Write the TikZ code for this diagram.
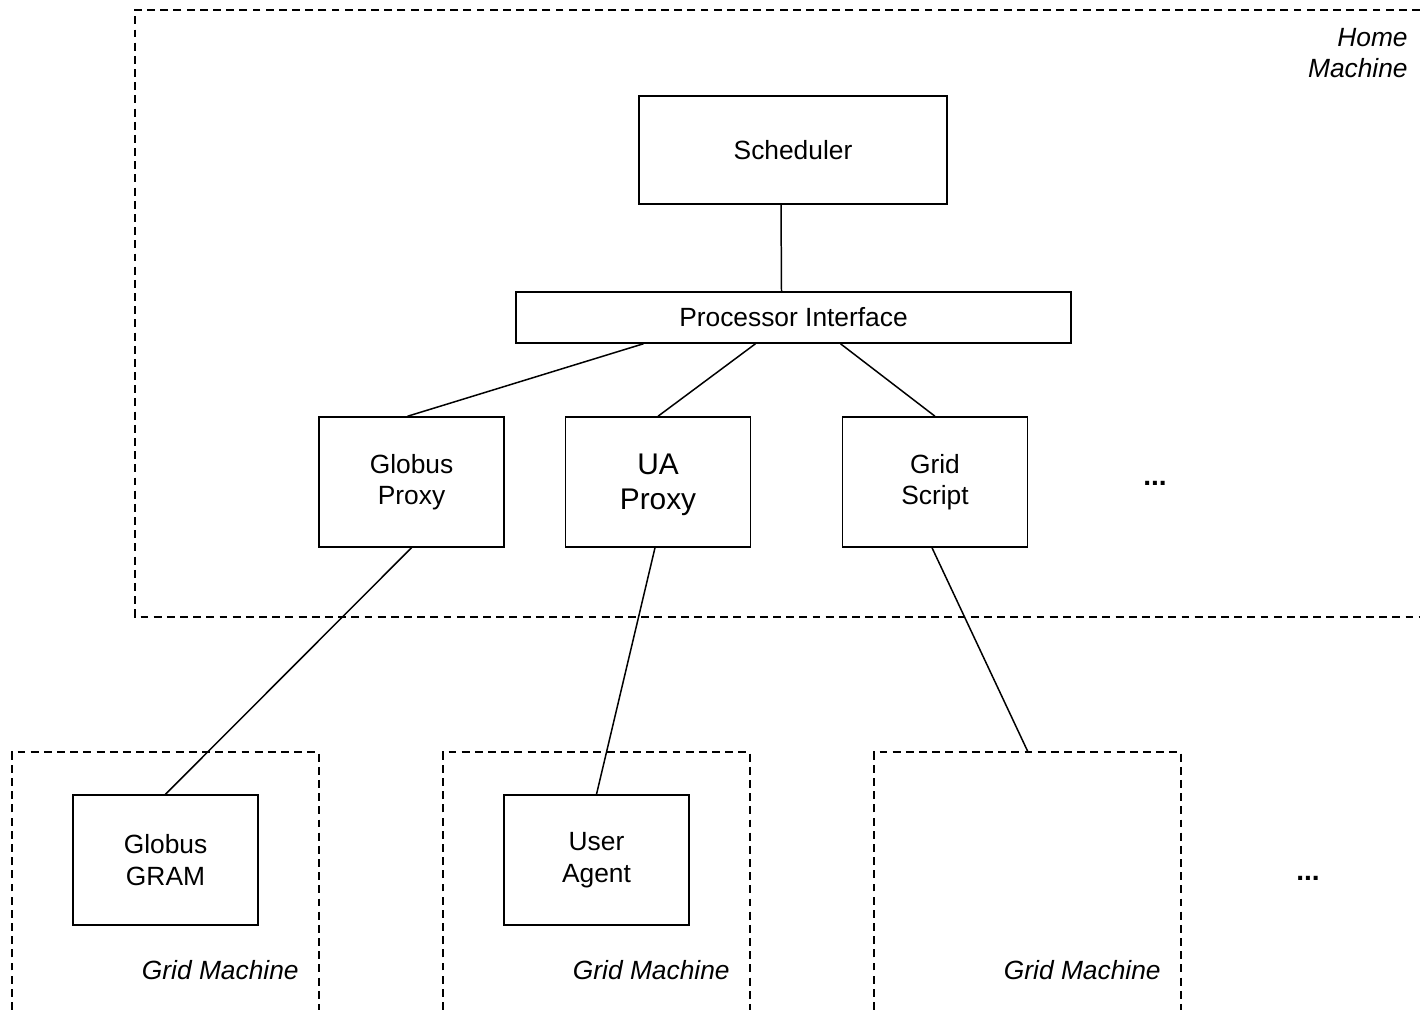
\documentclass[tikz,border=0pt]{standalone}
\usepackage{fontspec}
\setmainfont{Liberation Sans}
\usepackage{tikz}
\usetikzlibrary{calc}
\tikzset{
  block/.style={rectangle, draw=black, line width=0.85pt, align=center,
                inner sep=0pt, minimum width=3.7cm, minimum height=2.6cm,
                font=\fontsize{15}{18}\selectfont},
  machine/.style={draw=black, line width=0.85pt, dash pattern=on 4.5pt off 3pt},
  tag/.style={font=\fontsize{15}{18}\selectfont\itshape, inner sep=0pt},
  link/.style={draw=black, line width=0.85pt},
}
\begin{document}
\begin{tikzpicture}[x=0.02cm, y=-0.02cm]
  \useasboundingbox (0,0) rectangle (1420,1010);

  % home machine and grid machines
  \draw[machine] (1420,10) -- (135,10) -- (135,617) -- (1420,617);
  \draw[machine] (12,1010) -- (12,752) -- (319,752) -- (319,1010);
  \draw[machine] (443,1010) -- (443,752) -- (750,752) -- (750,1010);
  \draw[machine] (874,1010) -- (874,752) -- (1181,752) -- (1181,1010);
  \coordinate (gm3) at (1028,752);

  \node[tag, align=right, anchor=east] (home) at (1408,53) {Home\\Machine};
  \node[tag, anchor=east] (gmA) at (299,970) {Grid Machine};
  \node[tag, anchor=east] (gmB) at (730,970) {Grid Machine};
  \node[tag, anchor=east] (gmC) at (1161,970) {Grid Machine};

  % home machine parts
  \node[block, minimum width=6.16cm, minimum height=2.16cm] (sched) at (793,150) {Scheduler};
  \node[block, minimum width=11.1cm, minimum height=1.02cm] (pi) at (793.5,317.5) {Processor Interface};
  \node[block] (gproxy) at (411.5,482) {Globus\\Proxy};
  \node[block, font=\fontsize{17}{20}\selectfont] (uaproxy) at (658,482) {\\[-5pt]UA\\Proxy};
  \node[block] (gscript) at (935,482) {Grid\\Script};
  \node[font=\fontsize{16}{18}\selectfont\bfseries] (dotsA) at (1155,483) {...};

  % grid machine parts
  \node[block] (gram) at (165.5,860) {Globus\\GRAM};
  \node[block] (agent) at (596.5,860) {User\\Agent};
  \node[font=\fontsize{16}{18}\selectfont\bfseries] (dotsB) at (1308,878) {...};

  \draw[link] ($(sched.south)+(-12,0)$) -- ($(pi.north)+(-12,0)$);
  \draw[link] ($(pi.south)+(-150,0)$) -- ($(gproxy.north)+(-4,0)$);
  \draw[link] ($(pi.south)+(-38,0)$) -- (uaproxy.north);
  \draw[link] ($(pi.south)+(47,0)$) -- (gscript.north);
  \draw[link] (gproxy.south) -- (gram.north);
  \draw[link] ($(uaproxy.south)+(-3,0)$) -- (agent.north);
  \draw[link] ($(gscript.south)+(-3,0)$) -- (gm3);
\end{tikzpicture}
\end{document}
